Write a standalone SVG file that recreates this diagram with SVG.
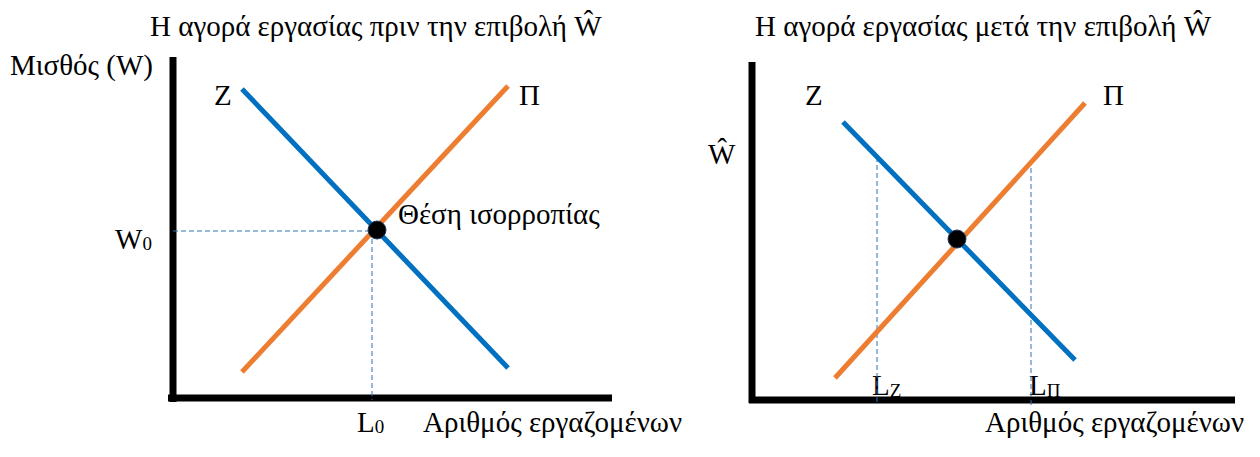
<svg xmlns="http://www.w3.org/2000/svg" width="1260" height="457" viewBox="0 0 1260 457">
<style>
text{font-family:"Liberation Serif","Times New Roman",serif;font-size:29px;fill:#000}
.axis{stroke:#000;stroke-width:7;fill:none}
.z{stroke:#0070C0;stroke-width:5;fill:none}
.p{stroke:#ED7D31;stroke-width:5;fill:none}
.dash{stroke:#2E75B6;stroke-width:1;stroke-dasharray:5,3;fill:none}
.dot{fill:#000;stroke:#1F3864;stroke-width:1}
.sub{font-size:19px}
</style>
<rect width="1260" height="457" fill="#fff"/>
<g id="left-chart">
<text x="150" y="36">Η αγορά εργασίας πριν την επιβολή Ŵ</text>
<text x="10" y="75">Μισθός (W)</text>
<text x="214" y="105">Z</text>
<text x="519" y="105">Π</text>
<text x="398" y="224">Θέση ισορροπίας</text>
<text x="115" y="249">W<tspan class="sub" dy="1">0</tspan></text>
<text x="357" y="432">L<tspan class="sub" dy="1">0</tspan></text>
<text x="423" y="432">Αριθμός εργαζομένων</text>
</g>
<g id="right-chart">
<text x="755" y="36">Η αγορά εργασίας μετά την επιβολή Ŵ</text>
<text x="805" y="105">Z</text>
<text x="1103" y="105">Π</text>
<text x="708" y="164">Ŵ</text>
<text x="872" y="395">L<tspan class="sub" dy="2">Z</tspan></text>
<text x="1029" y="395">L<tspan class="sub" dy="2">Π</tspan></text>
<text x="985" y="432">Αριθμός εργαζομένων</text>
</g>
<g id="connectors">
<line class="axis" x1="173" y1="57" x2="173" y2="402"/>
<line class="axis" x1="168" y1="398" x2="612" y2="398"/>
<line class="dash" x1="173" y1="231" x2="377" y2="231"/>
<line class="dash" x1="372" y1="231" x2="372" y2="400"/>
<line class="z" x1="242" y1="89" x2="508" y2="368"/>
<line class="p" x1="508" y1="86" x2="242" y2="372"/>
<circle class="dot" cx="377" cy="230" r="9"/>
<line class="axis" x1="752" y1="62" x2="752" y2="403"/>
<line class="axis" x1="749" y1="400" x2="1235" y2="400"/>
<line class="dash" x1="877" y1="157" x2="877" y2="405"/>
<line class="dash" x1="1031" y1="160" x2="1031" y2="405"/>
<line class="z" x1="843" y1="122" x2="1075" y2="360"/>
<line class="p" x1="1085" y1="103" x2="835" y2="378"/>
<circle class="dot" cx="957" cy="239" r="9"/>
</g>
</svg>
